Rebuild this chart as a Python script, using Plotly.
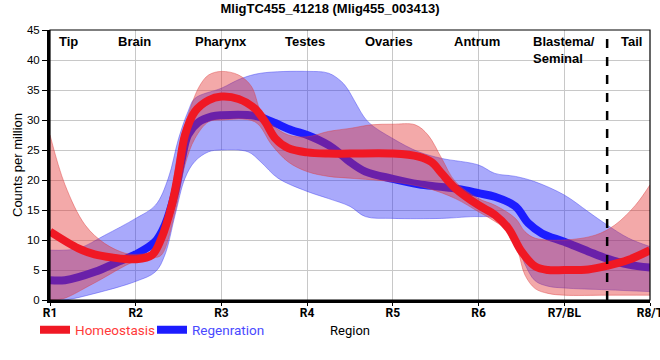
import plotly.graph_objects as go

# ---------------- data ----------------
tick_pos = [1, 2, 3, 4, 5, 6, 7, 8]
tick_text = ["R1", "R2", "R3", "R4", "R5", "R6", "R7/BL", "R8/T"]
y_ticks = [0, 5, 10, 15, 20, 25, 30, 35, 40, 45]

region_names = ["Tip", "Brain", "Pharynx", "Testes", "Ovaries", "Antrum", "Blastema/<br>Seminal", "Tail"]
region_pos = [1.21, 1.98, 3.0, 3.97, 4.95, 5.98, 7.0, 7.78]

homeo_x = [1.0, 1.33, 1.52, 1.72, 2.0, 2.19, 2.30, 2.42, 2.50, 2.575, 2.69, 2.85, 3.0, 3.2, 3.39, 3.51,
           3.63, 3.78, 4.0, 4.25, 4.5, 5.0, 5.30, 5.45, 5.57, 5.73, 6.0, 6.19, 6.35, 6.50, 6.66, 6.81,
           7.0, 7.28, 7.5, 7.75, 8.0]
homeo_y = [11.4, 8.6, 7.6, 7.1, 6.8, 7.5, 10.3, 15.8, 21.4, 27.5, 31.4, 33.3, 33.9, 33.5, 31.9, 29.7,
           26.9, 25.3, 24.6, 24.4, 24.4, 24.4, 23.9, 23.0, 21.1, 18.6, 15.8, 14.2, 11.9, 8.1, 5.6, 5.0,
           5.0, 5.1, 5.7, 6.7, 8.3]

homeo_up_x = [1.0, 1.175, 1.41, 1.64, 1.875, 2.0, 2.2, 2.35, 2.42, 2.5, 2.65, 2.75, 2.85, 3.0, 3.2, 3.35,
              3.46, 3.59, 3.78, 4.0, 4.25, 4.5, 4.75, 5.0, 5.26, 5.41, 5.57, 5.73, 6.0, 6.19, 6.43, 6.54,
              6.66, 7.0, 7.36, 7.59, 7.83, 8.0]
homeo_up_y = [27.5, 19.2, 12.5, 9.4, 7.8, 7.6, 8.2, 12.0, 18.0, 25.0, 32.5, 35.8, 37.5, 38.1, 37.5, 35.6,
              31.4, 29.2, 27.5, 27.2, 28.1, 28.6, 29.2, 29.3, 29.2, 27.5, 23.6, 19.7, 16.9, 15.8, 13.6, 11.4,
              10.3, 10.0, 10.8, 12.5, 15.8, 19.2]

homeo_lo_x = [1.0, 1.15, 1.5, 2.0, 2.2, 2.3, 2.46, 2.575, 2.69, 2.85, 3.0, 3.39, 3.59, 3.78, 4.0, 4.25,
              4.5, 5.0, 5.41, 5.73, 6.0, 6.19, 6.35, 6.46, 6.54, 6.66, 6.81, 7.0, 7.5, 8.0]
homeo_lo_y = [0.0, 0.2, 2.7, 6.5, 7.0, 7.5, 14.7, 22.5, 26.9, 29.7, 30.0, 29.7, 25.8, 23.0, 21.4, 20.6,
              20.3, 19.7, 18.6, 16.9, 14.7, 13.1, 11.4, 8.1, 4.2, 1.9, 1.1, 0.8, 0.8, 0.8]

regen_x = [1.0, 1.175, 1.525, 1.80, 2.0, 2.225, 2.34, 2.46, 2.54, 2.61, 2.73, 2.89, 3.0, 3.39, 3.59, 3.82,
           4.0, 4.25, 4.40, 4.5, 4.68, 5.0, 5.30, 5.53, 5.76, 6.0, 6.19, 6.43, 6.58, 6.74, 7.0, 7.28,
           7.5, 7.75, 8.0]
regen_y = [3.3, 3.3, 4.7, 6.4, 7.6, 9.7, 12.5, 18.0, 23.6, 27.5, 29.6, 30.6, 30.8, 30.7, 29.7, 28.3,
           27.5, 25.8, 24.2, 23.0, 21.4, 20.2, 19.3, 18.9, 18.5, 17.8, 17.2, 15.6, 12.8, 11.1, 9.7, 8.1,
           6.9, 5.9, 5.4]

regen_up_x = [1.0, 1.33, 1.64, 2.0, 2.23, 2.38, 2.5, 2.61, 2.69, 3.0, 3.23, 3.46, 4.0, 4.25, 4.40, 4.48,
              4.56, 4.71, 5.0, 5.30, 5.57, 6.0, 6.19, 6.43, 6.66, 7.0, 7.28, 7.5, 7.75, 8.0]
regen_up_y = [8.3, 8.6, 10.8, 13.6, 15.8, 20.3, 26.9, 31.4, 33.6, 35.3, 36.9, 37.8, 38.1, 37.8, 36.4, 35.0,
              33.0, 29.7, 26.9, 24.7, 23.6, 22.5, 21.1, 20.6, 19.7, 17.5, 14.7, 12.5, 10.3, 8.9]

regen_lo_x = [1.0, 1.175, 1.525, 2.0, 2.23, 2.34, 2.46, 2.575, 2.69, 2.85, 3.0, 3.31, 3.46, 3.66, 4.0, 4.25,
              4.5, 4.68, 5.0, 5.57, 6.0, 6.19, 6.43, 6.54, 6.66, 6.81, 7.0, 7.5, 8.0]
regen_lo_y = [0.0, 0.0, 1.1, 3.1, 4.7, 7.5, 14.2, 20.3, 23.1, 24.7, 25.0, 24.7, 23.0, 20.3, 18.1, 16.9,
              15.6, 13.9, 13.6, 13.6, 13.9, 13.6, 10.0, 6.0, 3.2, 2.3, 2.0, 1.7, 1.4]

divider_x = 7.5

# ---------------- styles ----------------
RED = "rgb(240,24,36)"
BLUE = "rgb(28,28,255)"
RED_FILL = "rgba(225,40,40,0.40)"
BLUE_FILL = "rgba(40,40,245,0.40)"
RED_EDGE = "rgba(220,60,60,0.55)"
BLUE_EDGE = "rgba(60,60,240,0.55)"
SM = 1.0

fig = go.Figure()

def band(xl, yl, xu, yu, fill, edge):
    fig.add_trace(go.Scatter(x=xl, y=yl, mode="lines", line=dict(color=edge, width=0.8, shape="spline", smoothing=SM),
                             showlegend=False, hoverinfo="skip"))
    fig.add_trace(go.Scatter(x=xu, y=yu, mode="lines", fill="tonexty", fillcolor=fill,
                             line=dict(color=edge, width=0.8, shape="spline", smoothing=SM),
                             showlegend=False, hoverinfo="skip"))

band(regen_lo_x, regen_lo_y, regen_up_x, regen_up_y, BLUE_FILL, BLUE_EDGE)
fig.add_trace(go.Scatter(x=regen_x, y=regen_y, mode="lines", name='<span style="color:#4a4aff">Regenration</span>',
                         line=dict(color=BLUE, width=8, shape="spline", smoothing=SM), legendrank=2))
band(homeo_lo_x, homeo_lo_y, homeo_up_x, homeo_up_y, RED_FILL, RED_EDGE)
fig.add_trace(go.Scatter(x=homeo_x, y=homeo_y, mode="lines", name='<span style="color:#ff3a3a">Homeostasis</span>',
                         line=dict(color=RED, width=8, shape="spline", smoothing=SM), legendrank=1))

# dashed divider
fig.add_shape(type="line", xref="x", yref="paper", x0=divider_x, x1=divider_x, y0=0, y1=1,
              line=dict(color="black", width=2.5, dash="dash"))
# thin frame top/right
fig.add_shape(type="rect", xref="paper", yref="paper", x0=0, x1=1, y0=0, y1=1,
              line=dict(color="black", width=1.2), layer="above")

for name, pos in zip(region_names, region_pos):
    fig.add_annotation(x=pos, y=1, xref="x", yref="paper", yanchor="top", yshift=-2, text="<b>" + name + "</b>",
                       showarrow=False, align="left", font=dict(size=13, color="black", family="Liberation Sans, Arial"))

fig.update_layout(
    width=660, height=360,
    margin=dict(l=50, r=10, t=30, b=60, autoexpand=False),
    paper_bgcolor="white", plot_bgcolor="white",
    font=dict(family="Liberation Sans, Arial, sans-serif", color="black"),
    title=dict(text="<b>MligTC455_41218 (Mlig455_003413)</b>", x=0.5, xanchor="center", y=1 - 8.5 / 360,
               yanchor="middle", font=dict(size=13, color="black")),
    showlegend=True,
    legend=dict(orientation="h", x=-0.025, xanchor="left", y=-0.111, yanchor="middle",
                font=dict(size=13.5, family="Roboto"), bgcolor="rgba(0,0,0,0)", itemwidth=30, traceorder="normal",
                entrywidth=72, entrywidthmode="pixels"),
    xaxis=dict(range=[1, 8], tickmode="array", tickvals=tick_pos, ticktext=tick_text,
               tickfont=dict(size=12, weight="bold", family="Roboto"), showgrid=True, gridcolor="#c8c8c8", gridwidth=1,
               showline=True, linecolor="black", linewidth=3, ticks="outside", ticklen=3, tickcolor="black",
               ticklabelstandoff=-3, ticklabeloverflow="allow", zeroline=False,
               title=dict(text="Region", font=dict(size=13, family="Roboto"), standoff=7)),
    yaxis=dict(range=[0, 45], tickmode="array", tickvals=y_ticks,
               tickfont=dict(size=11.5), showgrid=True, gridcolor="#c8c8c8", gridwidth=1,
               showline=True, linecolor="black", linewidth=3, ticks="outside", ticklen=5, tickcolor="black",
               zeroline=False,
               title=dict(text="Counts per million", font=dict(size=13), standoff=2)),
)

fig.write_html("out.html", config={"displayModeBar": False},
               post_script="document.body.style.margin='0';document.body.style.overflow='hidden';")
